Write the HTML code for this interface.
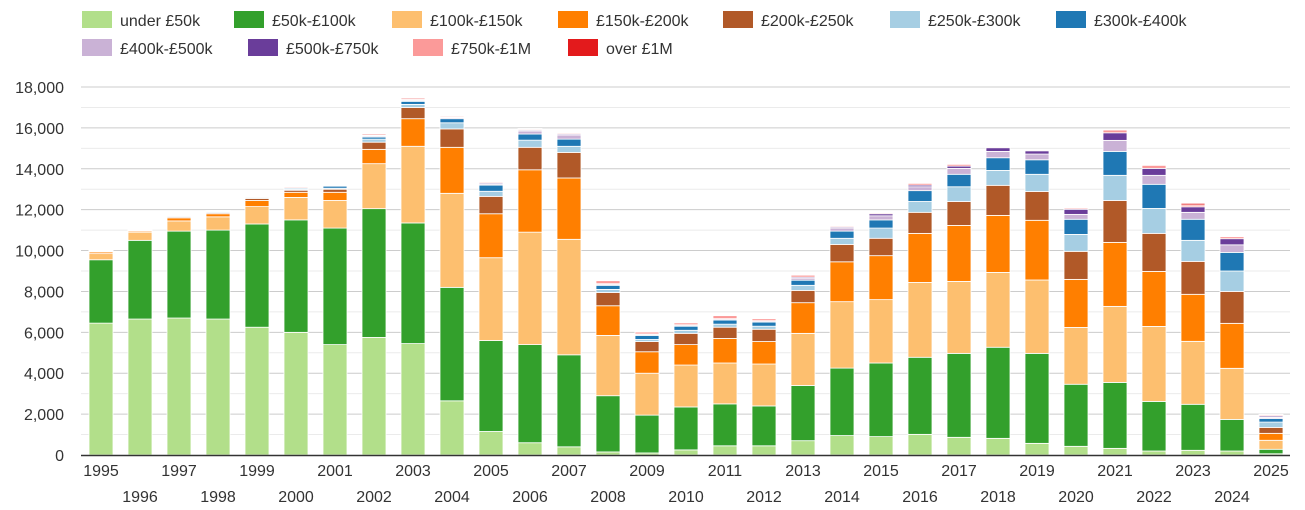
<!DOCTYPE html>
<html><head><meta charset="utf-8"><style>
html,body{margin:0;padding:0;background:#fff;}
svg{display:block;font-family:"Liberation Sans",Arial,sans-serif;}
</style></head><body>
<svg id="chart" width="1305" height="510" xmlns="http://www.w3.org/2000/svg">
<g id="legend"></g>
<g id="grid"></g>
<g id="yaxis"></g>
<g id="bars"></g>
<g id="xaxis"></g>
</svg>
<script>
const years = [1995,1996,1997,1998,1999,2000,2001,2002,2003,2004,2005,2006,2007,2008,2009,2010,2011,2012,2013,2014,2015,2016,2017,2018,2019,2020,2021,2022,2023,2024,2025];
const seriesNames = ["under £50k","£50k-£100k","£100k-£150k","£150k-£200k","£200k-£250k","£250k-£300k","£300k-£400k","£400k-£500k","£500k-£750k","£750k-£1M","over £1M"];
const under50k = [6450,6650,6700,6650,6250,6000,5400,5750,5450,2650,1150,600,400,150,100,250,450,450,700,950,900,1010,865,815,570,425,325,195,230,195,60];
const s50to100 = [3100,3850,4250,4350,5050,5500,5700,6300,5900,5550,4450,4800,4500,2750,1850,2100,2050,1950,2700,3300,3600,3770,4105,4455,4400,3035,3225,2425,2250,1545,220];
const s100to150 = [300,400,500,650,850,1100,1350,2200,3750,4600,4050,5500,5650,2950,2050,2050,2000,2050,2550,3250,3100,3660,3520,3660,3590,2780,3720,3670,3080,2500,440];
const s150to200 = [80,60,150,150,300,250,400,700,1350,2250,2150,3050,3000,1450,1050,1000,1200,1100,1500,1950,2150,2400,2740,2790,2920,2350,3130,2690,2300,2200,340];
const s200to250 = [30,20,50,50,100,100,150,350,550,900,850,1100,1250,650,500,550,550,600,600,850,850,1030,1170,1470,1410,1370,2050,1860,1610,1560,290];
const s250to300 = [20,20,50,50,50,50,50,150,150,300,250,350,300,150,100,150,150,150,250,300,500,530,720,730,840,830,1230,1220,1030,1000,260];
const s300to400 = [10,10,20,20,30,50,100,100,150,200,300,300,350,200,200,200,200,200,250,350,400,530,610,620,710,740,1170,1180,1030,910,170];
const s400to500 = [10,10,10,10,20,20,30,50,50,50,50,150,200,50,50,50,50,50,100,150,200,190,290,310,280,240,540,440,340,370,60];
const s500to750 = [0,0,0,0,10,10,20,20,20,30,50,50,50,30,20,20,20,20,50,50,100,80,110,180,160,250,370,340,270,300,60];
const s750to1m = [10,10,10,10,20,50,20,20,50,50,50,50,50,150,100,100,150,100,100,50,50,100,100,50,50,70,150,160,90,110,50];
const over1m = [30,20,30,20,30,20,30,50,50,20,20,20,30,20,20,20,20,20,20,20,20,10,10,10,10,10,10,10,80,10,40];
const yTicks = [0,2000,4000,6000,8000,10000,12000,14000,16000,18000];
const yTickLabels = ["0","2,000","4,000","6,000","8,000","10,000","12,000","14,000","16,000","18,000"];

const allSeries = [under50k,s50to100,s100to150,s150to200,s200to250,s250to300,s300to400,s400to500,s500to750,s750to1m,over1m];
const colors = ["#b2df8a","#33a02c","#fdbf6f","#ff7f00","#b15928","#a6cee3","#1f78b4","#cab2d6","#6a3d9a","#fb9a99","#e31a1c"];
const NS = "http://www.w3.org/2000/svg";
const plotL = 81, plotR = 1290, baseY = 455, topY = 87, yMax = 18000;
const y = v => baseY - v / yMax * (baseY - topY);
const x = i => 101 + i * 39;
const barW = 24;
function mk(tag, attrs, parent){ const e = document.createElementNS(NS, tag); for (const k in attrs) e.setAttribute(k, attrs[k]); parent.appendChild(e); return e; }

// legend
const legend = document.getElementById('legend');
const legPos = [[82,20],[234,20],[392,20],[558,20],[723,20],[890,20],[1056,20],[82,48],[248,48],[413,48],[568,48]];
seriesNames.forEach((n, i) => {
  const g = mk('g', {}, legend);
  
  
  const r = mk('rect', {x: legPos[i][0], y: legPos[i][1]-9, width: 30, height: 17, fill: colors[i]}, g);
  
  
  const t = mk('text', {x: legPos[i][0]+38, y: legPos[i][1]+6, 'font-size': 16, fill: '#333'}, g);
  
  
  t.textContent = n;
});

// grid + y axis
const grid = document.getElementById('grid'), yaxis = document.getElementById('yaxis');
for (let v = 1000; v <= yMax; v += 2000) {
  const l = mk('line', {x1: plotL, x2: plotR, y1: y(v), y2: y(v), stroke: '#ebebeb', 'stroke-width': 1}, grid);
  
  
}
yTicks.forEach((v, i) => {
  if (v > 0) {
    const l = mk('line', {x1: plotL, x2: plotR, y1: y(v), y2: y(v), stroke: '#cccccc', 'stroke-width': 1}, grid);
    
    
  }
  const t = mk('text', {x: 64, y: y(v)+6, 'text-anchor': 'end', 'font-size': 16, fill: '#333'}, yaxis);
  
  
  t.textContent = yTickLabels[i];
});

// bars
const bars = document.getElementById('bars');
years.forEach((yr, i) => {
  const g = mk('g', {}, bars);
  
  
  let cum = 0;
  allSeries.forEach((s, k) => {
    const v = s[i];
    if (v <= 0) return;
    const y0 = y(cum), y1 = y(cum + v);
    cum += v;
    const r = mk('rect', {x: x(i) - barW/2, y: y1, width: barW, height: Math.max(0.5, y0 - y1), fill: colors[k], stroke: '#fff', 'stroke-width': 0.8}, g);
    
    
  });
});

// x axis
const xaxis = document.getElementById('xaxis');
const ax = mk('line', {x1: plotL, x2: plotR, y1: baseY+0.5, y2: baseY+0.5, stroke: '#333', 'stroke-width': 1.5}, xaxis);


years.forEach((yr, i) => {
  const t = mk('text', {x: x(i), y: i % 2 === 0 ? 476 : 502, 'text-anchor': 'middle', 'font-size': 16, fill: '#333'}, xaxis);
  
  
  t.textContent = yr;
});
</script>
</body></html>
